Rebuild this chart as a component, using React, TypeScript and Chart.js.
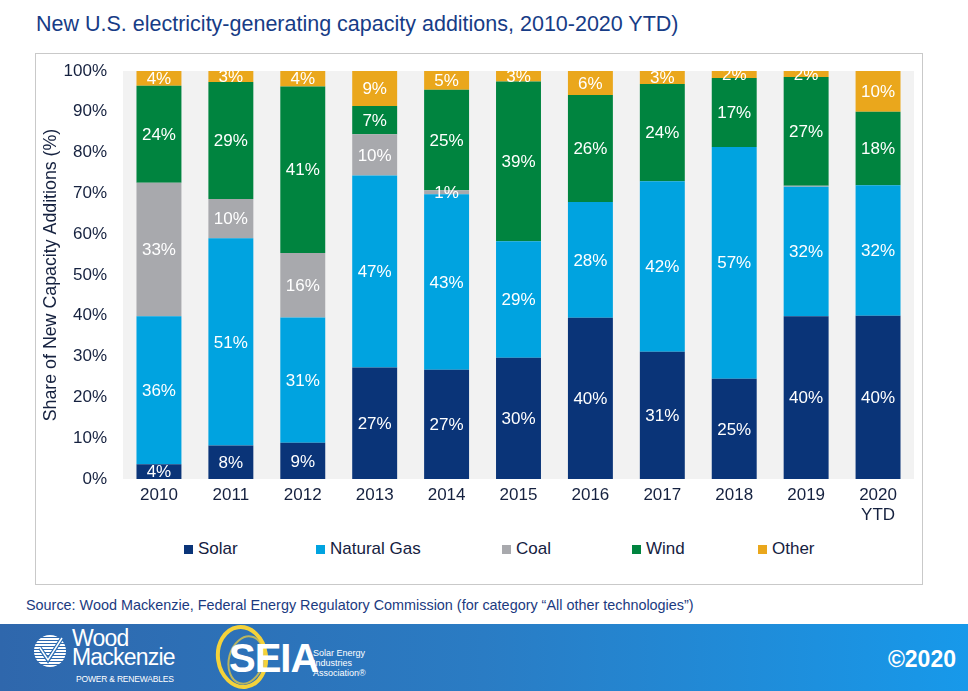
import React, { useEffect, useRef } from "react";
import { Chart, registerables } from "chart.js";

Chart.register(...registerables);

const categories: (string | string[])[] = ["2010", "2011", "2012", "2013", "2014", "2015", "2016", "2017", "2018", "2019", ["2020", "YTD"]];
const solar = [3.6, 8.2, 8.9, 27.3, 26.8, 29.7, 39.5, 31.2, 24.6, 39.9, 40.0];
const naturalGas = [36.3, 50.8, 30.7, 47.1, 43.0, 28.6, 28.4, 41.8, 56.8, 31.7, 32.0];
const coal = [32.7, 9.6, 15.8, 10.1, 1.0, 0, 0, 0, 0, 0.3, 0];
const wind = [23.8, 28.7, 40.8, 6.9, 24.6, 39.1, 26.2, 23.8, 16.9, 26.6, 18.0];
const other = [3.6, 2.7, 3.8, 8.6, 4.6, 2.6, 5.9, 3.2, 1.7, 1.5, 10.0];
const yTicks = [0, 10, 20, 30, 40, 50, 60, 70, 80, 90, 100];

const seriesNames = ["Solar", "Natural Gas", "Coal", "Wind", "Other"];
const seriesColors = ["#0a3478", "#00a3e0", "#a8a9ad", "#00843f", "#eaa71c"];
const seriesData = [solar, naturalGas, coal, wind, other];

const FONT = "'Liberation Sans', Arial, sans-serif";
const NARROW = "'Liberation Sans Narrow', 'Liberation Sans', Arial, sans-serif";
const TEXT = "#15213f";

const plotBg = {
  id: "plotBg",
  beforeDatasetsDraw(chart: any) {
    const { ctx, chartArea } = chart;
    ctx.save();
    ctx.fillStyle = "#f2f2f2";
    ctx.fillRect(chartArea.left, chartArea.top, chartArea.right - chartArea.left, chartArea.bottom - chartArea.top);
    ctx.restore();
  },
};

const barLabels = {
  id: "barLabels",
  afterDatasetsDraw(chart: any) {
    const { ctx, chartArea } = chart;
    ctx.save();
    ctx.beginPath();
    ctx.rect(chartArea.left, chartArea.top, chartArea.right - chartArea.left, chartArea.bottom - chartArea.top);
    ctx.clip();
    ctx.fillStyle = "#ffffff";
    ctx.font = `17px ${FONT}`;
    ctx.textAlign = "center";
    ctx.textBaseline = "middle";
    chart.data.datasets.forEach((ds: any, di: number) => {
      const meta = chart.getDatasetMeta(di);
      meta.data.forEach((el: any, i: number) => {
        const v = ds.data[i];
        if (v < 0.5) return;
        const p = el.getProps(["x", "y", "base"], true);
        ctx.fillText(Math.round(v) + "%", p.x, (p.y + p.base) / 2 + 1);
      });
    });
    ctx.restore();
  },
};

function ChartCanvas() {
  const ref = useRef<HTMLCanvasElement | null>(null);
  useEffect(() => {
    if (!ref.current) return;
    const chart = new Chart(ref.current, {
      type: "bar",
      data: {
        labels: categories,
        datasets: seriesNames.map((name, i) => ({
          label: name,
          data: seriesData[i],
          backgroundColor: seriesColors[i],
          borderWidth: 0,
          categoryPercentage: 1,
          barPercentage: 0.625,
        })),
      },
      options: {
        animation: false,
        responsive: false,
        maintainAspectRatio: false,
        layout: { padding: { left: 37, top: 71, right: 54, bottom: 0 } },
        plugins: { legend: { display: false }, tooltip: { enabled: false } },
        scales: {
          x: {
            stacked: true,
            grid: { display: false, drawTicks: false },
            border: { display: false },
            ticks: { color: TEXT, font: { family: FONT, size: 17, lineHeight: "20px" as any }, padding: 6, maxRotation: 0, autoSkip: false },
            afterFit: (s: any) => { s.height = 51; },
          },
          y: {
            stacked: true,
            min: 0,
            max: 100,
            afterBuildTicks: (s: any) => { s.ticks = yTicks.map((v) => ({ value: v })); },
            grid: { display: false, drawTicks: false },
            border: { display: false },
            ticks: { color: TEXT, font: { family: FONT, size: 17 }, padding: 16, callback: (v: any) => v + "%" },
            title: { display: true, text: "Share of New Capacity Additions (%)", color: TEXT, font: { family: FONT, size: 17.8 }, padding: { top: 3, bottom: 3 } },
            afterFit: (s: any) => { s.width = 86; },
          },
        },
      },
      plugins: [plotBg, barLabels],
    });
    return () => chart.destroy();
  }, []);
  return <canvas ref={ref} width={968} height={530} style={{ position: "absolute", left: 0, top: 0, width: 968, height: 530 }} />;
}

const legendX = [184, 316, 502, 632, 758];

export default function App() {
  return (
    <div style={{ position: "absolute", left: 0, top: 0, width: 968, height: 691, background: "#fff", overflow: "hidden", fontFamily: FONT }}>
      <div style={{ position: "absolute", left: 36, top: 11, fontSize: 21.5, lineHeight: "26px", color: "#173c86", whiteSpace: "nowrap" }}>
        New U.S. electricity-generating capacity additions, 2010-2020 YTD)
      </div>
      <div style={{ position: "absolute", left: 35, top: 53, width: 886, height: 530, border: "1px solid #c9c9c9" }} />
      <ChartCanvas />
      {seriesNames.map((n, i) => (
        <div key={n} style={{ position: "absolute", left: legendX[i], top: 538, height: 22, display: "flex", alignItems: "center", whiteSpace: "nowrap" }}>
          <span style={{ display: "inline-block", width: 9, height: 9, background: seriesColors[i], marginRight: 5 }} />
          <span style={{ fontSize: 17, color: TEXT }}>{n}</span>
        </div>
      ))}
      <div style={{ position: "absolute", left: 26, top: 596, fontSize: 14.4, lineHeight: "18px", color: "#1b3a80", whiteSpace: "nowrap" }}>
        Source: Wood Mackenzie, Federal Energy Regulatory Commission (for category “All other technologies”)
      </div>
      <div style={{ position: "absolute", left: 0, top: 624, width: 968, height: 67, background: "linear-gradient(to right, #2f67ac 0%, #2a7cc4 50%, #1799ea 100%)" }}>
        <svg width={968} height={67} style={{ position: "absolute", left: 0, top: 0 }}>
          <defs>
            <clipPath id="wmc"><circle cx={50} cy={27} r={16} /></clipPath>
          </defs>
          <g clipPath="url(#wmc)">
            {[0, 1, 2, 3, 4, 5, 6, 7, 8, 9, 10].map((k) => (
              <rect key={k} x={30} y={11 + k * 3} width={40} height={2} fill="#ffffff" />
            ))}
          </g>
          <path d="M40 24 L48 36 L62 14" stroke="#2d6fb5" strokeWidth={4} fill="none" />
          <path d="M40 24 L48 36 L62 14" stroke="#ffffff" strokeWidth={1.5} fill="none" />
          <ellipse cx={242} cy={33} rx={24} ry={30} fill="none" stroke="#f4d23a" strokeWidth={4} transform="rotate(-8 242 33)" />
          <ellipse cx={246} cy={36} rx={17} ry={24} fill="none" stroke="#f4d23a" strokeWidth={2} opacity={0.7} transform="rotate(15 246 36)" />
        </svg>
        <div style={{ position: "absolute", left: 72, top: 5, color: "#fff", fontSize: 23, lineHeight: "19px", letterSpacing: -0.8, fontFamily: NARROW }}>
          Wood<br />Mackenzie
        </div>
        <div style={{ position: "absolute", left: 76, top: 50, color: "#fff", fontSize: 8.5, lineHeight: "11px", letterSpacing: -0.2, whiteSpace: "nowrap" }}>POWER &amp; RENEWABLES</div>
        <div style={{ position: "absolute", left: 229, top: 14, color: "#fff", fontSize: 40, lineHeight: "40px", fontWeight: 700, letterSpacing: -1, fontFamily: NARROW }}>SEIA</div>
        <div style={{ position: "absolute", left: 313, top: 24, color: "#fff", fontSize: 9, lineHeight: "10px", fontFamily: NARROW }}>
          Solar Energy<br />Industries<br />Association®
        </div>
        <div style={{ position: "absolute", right: 12, top: 22, color: "#fff", fontSize: 23, lineHeight: "26px", fontWeight: 700 }}>©2020</div>
      </div>
    </div>
  );
}
